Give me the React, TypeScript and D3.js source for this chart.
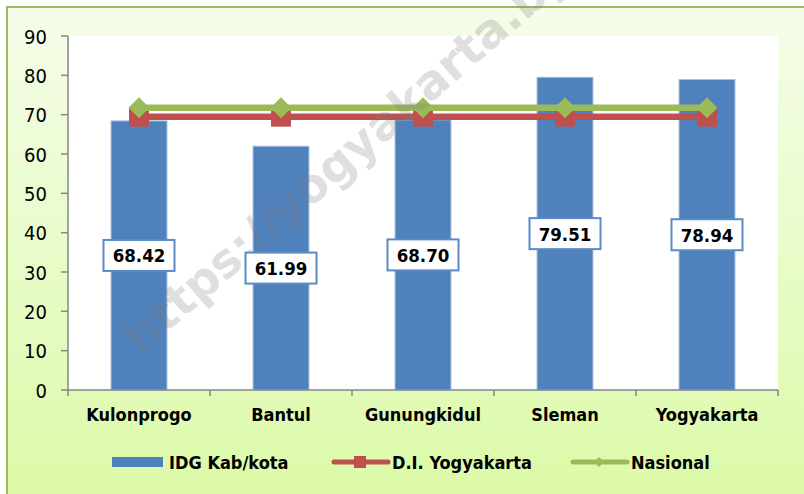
import React from "react";
import * as d3 from "d3";

const categories = ["Kulonprogo", "Bantul", "Gunungkidul", "Sleman", "Yogyakarta"];
const idgValues = [68.42, 61.99, 68.7, 79.51, 78.94];
const diyValues = [69.5, 69.5, 69.5, 69.5, 69.5];
const nasionalValues = [71.74, 71.74, 71.74, 71.74, 71.74];
const yTicks = [0, 10, 20, 30, 40, 50, 60, 70, 80, 90];
const seriesNames = ["IDG Kab/kota", "D.I. Yogyakarta", "Nasional"];

const W = 804;
const H = 494;
const plot = { left: 68, right: 778, top: 36, bottom: 390 };

const BLUE = "#4f81bd";
const RED = "#c0504d";
const GREEN = "#9bbb59";
const AXIS = "#868686";
const COND = "'DejaVu Sans Condensed', 'DejaVu Sans', sans-serif";

export default function App() {
  const x = d3.scaleBand<string>().domain(categories).range([plot.left, plot.right]).padding(0);
  const y = d3.scaleLinear().domain([0, 90]).range([plot.bottom, plot.top]);
  const bw = x.bandwidth();
  const barW = bw * 0.394;
  const cx = (c: string) => (x(c) as number) + bw / 2;

  const line = d3
    .line<number>()
    .x((_, i) => cx(categories[i]))
    .y((d) => y(d));

  const boundaries = [...categories.map((c) => x(c) as number), plot.right];

  return (
    <svg
      width={W}
      height={H}
      style={{ position: "absolute", left: 0, top: 0, display: "block" }}
    >
      <defs>
        <linearGradient id="bg" x1="0" y1="0" x2="0" y2="1">
          <stop offset="0%" stopColor="#f5fdea" />
          <stop offset="100%" stopColor="#dbfaa6" />
        </linearGradient>
        <clipPath id="clipAll">
          <rect x={0} y={0} width={W} height={H} />
        </clipPath>
      </defs>
      <rect x={0} y={0} width={W} height={H} fill="#ffffff" />
      <rect x={7} y={7} width={W + 10} height={H + 10} fill="url(#bg)" stroke={GREEN} strokeWidth={2} />
      <rect x={plot.left} y={plot.top} width={plot.right - plot.left} height={plot.bottom - plot.top} fill="#ffffff" />

      {/* y axis */}
      <line x1={plot.left} x2={plot.left} y1={plot.top} y2={plot.bottom} stroke={AXIS} strokeWidth={1.5} />
      {yTicks.map((t) => (
        <g key={t}>
          <line x1={plot.left - 7} x2={plot.left} y1={y(t)} y2={y(t)} stroke={AXIS} strokeWidth={1.5} />
          <text
            x={47}
            y={y(t) + 7.5}
            textAnchor="end"
            fontFamily={COND}
            fontSize={20}
            fill="#000"
          >
            {t}
          </text>
        </g>
      ))}

      {/* bars */}
      {categories.map((c, i) => (
        <rect
          key={c}
          x={cx(c) - barW / 2}
          y={y(idgValues[i])}
          width={barW}
          height={plot.bottom - y(idgValues[i])}
          fill={BLUE}
          stroke="#a9c1e0"
          strokeWidth={1}
        />
      ))}

      {/* x axis */}
      <line x1={plot.left} x2={plot.right} y1={plot.bottom} y2={plot.bottom} stroke={AXIS} strokeWidth={1.5} />
      {boundaries.map((b, i) => (
        <line key={i} x1={b} x2={b} y1={plot.bottom} y2={plot.bottom + 6} stroke={AXIS} strokeWidth={1.5} />
      ))}
      {categories.map((c) => (
        <text
          key={c}
          x={cx(c)}
          y={421}
          textAnchor="middle"
          fontFamily={COND}
          fontWeight="bold"
          fontSize={18}
          fill="#000"
        >
          {c}
        </text>
      ))}

      {/* DIY line */}
      <path d={line(diyValues) as string} fill="none" stroke={RED} strokeWidth={6.5} />
      {categories.map((c, i) => (
        <rect key={c} x={cx(c) - 10} y={y(diyValues[i]) - 9} width={20} height={19} fill={RED} />
      ))}

      {/* Nasional line */}
      <path d={line(nasionalValues) as string} fill="none" stroke={GREEN} strokeWidth={6.5} />
      {categories.map((c, i) => {
        const px = cx(c);
        const py = y(nasionalValues[i]);
        const r = 10.5;
        return (
          <path
            key={c}
            d={`M${px},${py - r}L${px + r},${py}L${px},${py + r}L${px - r},${py}Z`}
            fill={GREEN}
          />
        );
      })}

      {/* watermark */}
      <g clipPath="url(#clipAll)">
        <text
          transform="translate(140,356) rotate(-41)"
          fontFamily="'DejaVu Sans', sans-serif"
          fontWeight="bold"
          fontSize={47}
          fill="#7f7f7f"
          fillOpacity={0.26}
        >
          https://yogyakarta.bps.go.id
        </text>
      </g>

      {/* data labels */}
      {categories.map((c, i) => {
        const mid = (y(idgValues[i]) + plot.bottom) / 2;
        const bwid = 71;
        const bh = 31;
        return (
          <g key={c}>
            <rect
              x={cx(c) - bwid / 2}
              y={mid - bh / 2}
              width={bwid}
              height={bh}
              fill="#ffffff"
              stroke="#5a8ac8"
              strokeWidth={2}
            />
            <text
              x={cx(c)}
              y={mid + 7}
              textAnchor="middle"
              fontFamily={COND}
              fontWeight="bold"
              fontSize={18.5}
              fill="#000"
            >
              {idgValues[i].toFixed(2)}
            </text>
          </g>
        );
      })}

      {/* legend */}
      <rect x={112} y={457} width={51} height={10} fill={BLUE} />
      <text x={169} y={468.5} fontFamily={COND} fontWeight="bold" fontSize={18} fill="#000">
        {seriesNames[0]}
      </text>
      <line x1={334} x2={388} y1={462} y2={462} stroke={RED} strokeWidth={5} strokeLinecap="round" />
      <rect x={354} y={456} width={12} height={12} fill={RED} />
      <text x={392} y={468.5} fontFamily={COND} fontWeight="bold" fontSize={18} fill="#000">
        {seriesNames[1]}
      </text>
      <line x1={573} x2={627} y1={462} y2={462} stroke={GREEN} strokeWidth={5} strokeLinecap="round" />
      <path d="M599,457L604,462L599,467L594,462Z" fill={GREEN} />
      <text x={631} y={468.5} fontFamily={COND} fontWeight="bold" fontSize={18} fill="#000">
        {seriesNames[2]}
      </text>
    </svg>
  );
}
